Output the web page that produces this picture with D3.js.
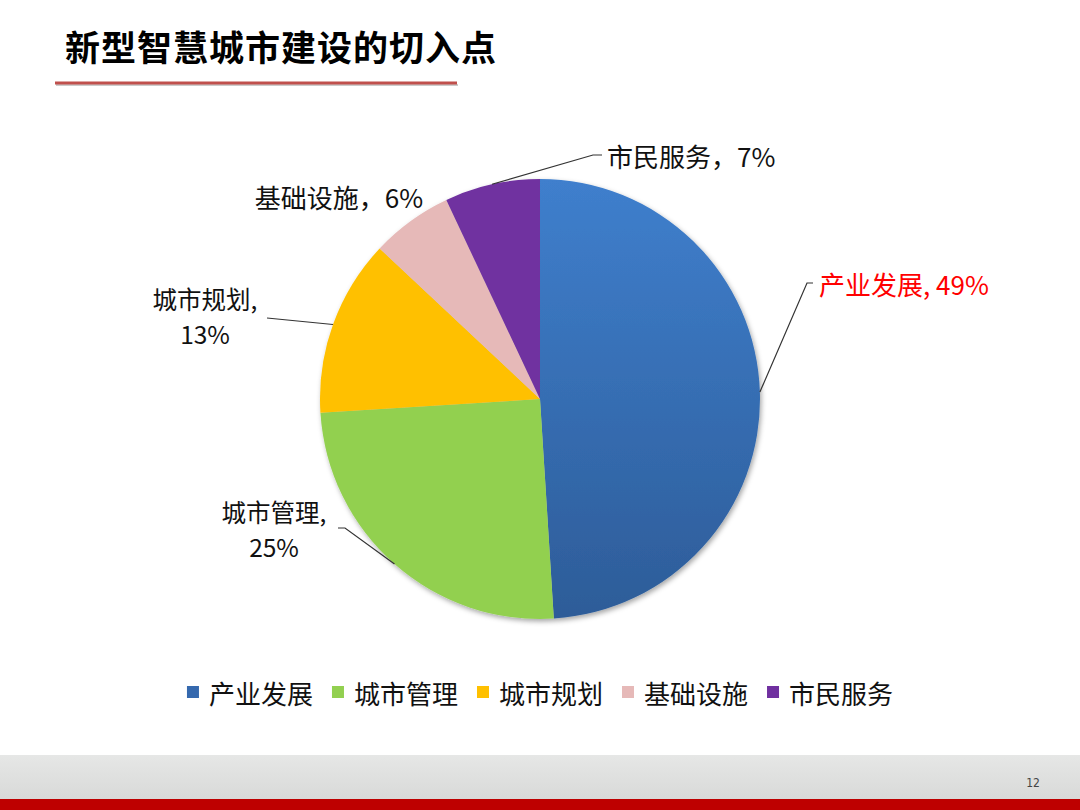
<!DOCTYPE html>
<html lang="zh">
<head>
<meta charset="UTF-8">
<title>新型智慧城市建设的切入点</title>
<script src="https://cdnjs.cloudflare.com/ajax/libs/d3/7.8.5/d3.min.js"></script>
<style>
    html, body { margin: 0; padding: 0; background: #fff; }
    body { width: 1080px; height: 810px; overflow: hidden; font-family: "Noto Sans CJK SC", "Noto Sans", sans-serif; }
    .label { font-size: 26px; fill: #111; }
    .label.two { font-size: 24.5px; }
    .legend text { font-size: 26px; fill: #111; }
    .leader { stroke: #333; stroke-width: 1.2; fill: none; }
</style>
</head>
<body>
<div id="chart"></div>
<script>
    // Data
    const categories = ['产业发展', '城市管理', '城市规划', '基础设施', '市民服务'];
    const values = [49, 25, 13, 6, 7];
    const labelTexts = [
        ['产业发展, 49%'],
        ['城市管理,', '25%'],
        ['城市规划,', '13%'],
        ['基础设施，6%'],
        ['市民服务，7%']
    ];
    const colors = ['#3B78C4', '#92D050', '#FFC000', '#E6B9B8', '#7030A0'];
    const pageNumber = '12';

    // Layout
    const W = 1080, H = 810;
    const cx = 540, cy = 399, radius = 220;
    const lineStep = 35.5;

    // label placement, relative to the pie centre (elbow = bend of the leader line)
    const labelLayout = [
        { text: [279, -116], anchor: 'start', elbow: [267, -116], end: [273, -116], color: '#FF0000' },
        { text: [-266, 112], anchor: 'middle', elbow: [-195, 129], end: [-202, 129] },
        { text: [-335, -101], anchor: 'middle', elbow: null, end: [-273, -81] },
        { text: [-201, -203], anchor: 'middle', elbow: null, end: null },
        { text: [67, -244], anchor: 'start', elbow: [53, -244], end: [62, -244] }
    ];

    const svg = d3.select('#chart').append('svg')
        .attr('width', W)
        .attr('height', H);

    const defs = svg.append('defs');

    const blueGrad = defs.append('linearGradient')
        .attr('id', 'blueGrad')
        .attr('gradientUnits', 'userSpaceOnUse')
        .attr('x1', 0).attr('y1', -radius)
        .attr('x2', 0).attr('y2', radius);
    blueGrad.append('stop').attr('offset', '0%').attr('stop-color', '#3F7FCD');
    blueGrad.append('stop').attr('offset', '100%').attr('stop-color', '#2D5C98');

    const shadow = defs.append('filter')
        .attr('id', 'pieShadow')
        .attr('x', '-10%').attr('y', '-10%')
        .attr('width', '120%').attr('height', '120%');
    shadow.append('feDropShadow')
        .attr('dx', 1.5).attr('dy', 2.5)
        .attr('stdDeviation', 2.5)
        .attr('flood-color', '#000')
        .attr('flood-opacity', 0.35);

    const footGrad = defs.append('linearGradient')
        .attr('id', 'footGrad')
        .attr('x1', 0).attr('y1', 0).attr('x2', 0).attr('y2', 1);
    footGrad.append('stop').attr('offset', '0%').attr('stop-color', '#E6E7E6');
    footGrad.append('stop').attr('offset', '100%').attr('stop-color', '#D8D9D8');

    // Title
    svg.append('text')
        .attr('x', 65)
        .attr('y', 61)
        .style('font-family', '"Noto Sans CJK SC", sans-serif')
        .style('font-size', '35px')
        .style('font-weight', 'bold')
        .style('letter-spacing', '1px')
        .style('fill', '#000')
        .text('新型智慧城市建设的切入点');

    svg.append('line')
        .attr('x1', 56).attr('x2', 458)
        .attr('y1', 85).attr('y2', 85)
        .attr('stroke', '#999').attr('stroke-width', 2).attr('opacity', 0.5);
    svg.append('line')
        .attr('x1', 55).attr('x2', 457)
        .attr('y1', 83).attr('y2', 83)
        .attr('stroke', '#C0504D').attr('stroke-width', 3);

    // Pie
    const pieData = categories.map((c, i) => ({ name: c, value: values[i] }));
    const pie = d3.pie().value(d => d.value).sort(null);
    const arcs = pie(pieData);
    const arc = d3.arc().innerRadius(0).outerRadius(radius);

    const g = svg.append('g').attr('transform', `translate(${cx},${cy})`);

    g.append('g')
        .attr('filter', 'url(#pieShadow)')
        .selectAll('path')
        .data(arcs)
        .enter()
        .append('path')
        .attr('d', arc)
        .attr('fill', d => d.index === 0 ? 'url(#blueGrad)' : colors[d.index]);

    // Leader lines
    arcs.forEach((a, i) => {
        const lay = labelLayout[i];
        if (!lay.end) return;
        const mid = (a.startAngle + a.endAngle) / 2;
        const p0 = [radius * Math.sin(mid), -radius * Math.cos(mid)];
        const pts = lay.elbow ? [p0, lay.elbow, lay.end] : [p0, lay.end];
        g.append('path')
            .attr('class', 'leader')
            .attr('d', d3.line()(pts));
    });

    // Labels (one text element per line)
    arcs.forEach((a, i) => {
        const lay = labelLayout[i];
        const lines = labelTexts[i];
        lines.forEach((ln, j) => {
            g.append('text')
                .attr('class', lines.length > 1 ? 'label two' : 'label')
                .attr('x', lay.text[0])
                .attr('y', lay.text[1] + j * lineStep)
                .attr('text-anchor', lay.anchor)
                .attr('dominant-baseline', 'central')
                .style('fill', lay.color || '#111')
                .text(ln);
        });
    });

    // Legend
    const legend = svg.append('g').attr('class', 'legend');
    const items = legend.selectAll('g')
        .data(categories)
        .enter()
        .append('g');
    items.append('rect')
        .attr('width', 12).attr('height', 12)
        .attr('y', -6)
        .attr('fill', (d, i) => i === 0 ? '#3569AE' : colors[i]);
    items.append('text')
        .attr('x', 22)
        .attr('dominant-baseline', 'central')
        .text(d => d);

    let xPos = 0;
    const gap = 19;
    items.each(function () {
        const w = 22 + this.querySelector('text').getComputedTextLength();
        d3.select(this).attr('transform', `translate(${xPos},0)`);
        xPos += w + gap;
    });
    const total = xPos - gap;
    legend.attr('transform', `translate(${540 - total / 2},692)`);

    // Footer
    svg.append('rect')
        .attr('x', 0).attr('y', 755)
        .attr('width', W).attr('height', 45)
        .attr('fill', 'url(#footGrad)');
    svg.append('rect')
        .attr('x', 0).attr('y', 799)
        .attr('width', W).attr('height', 11)
        .attr('fill', '#BE0000');
    svg.append('text')
        .attr('x', 1033)
        .attr('y', 783)
        .attr('text-anchor', 'middle')
        .attr('dominant-baseline', 'central')
        .style('font-family', '"Liberation Sans Narrow", "DejaVu Sans Condensed", sans-serif')
        .style('font-size', '12px')
        .style('fill', '#444')
        .text(pageNumber);
</script>
</body>
</html>
